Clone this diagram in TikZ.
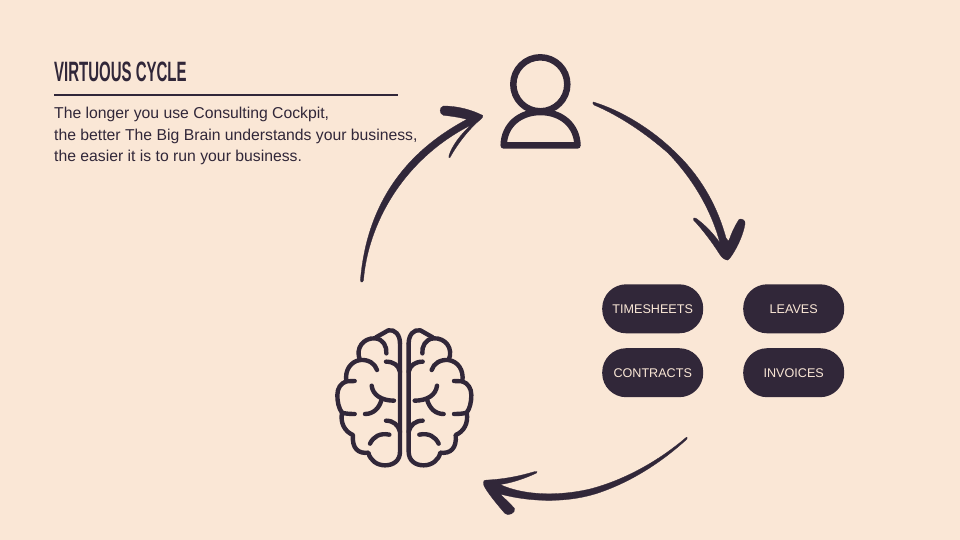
\documentclass[tikz,border=0pt]{standalone}
\usepackage{fontspec}
\setmainfont{Liberation Sans}
\newfontfamily\titlefont[FakeStretch=0.535]{Liberation Sans Bold}
\definecolor{bgc}{RGB}{250,231,214}
\definecolor{ink}{RGB}{49,39,57}
\newcommand{\brainhalf}{%
  \draw[brainline] (240,70) -- (240,395) .. controls (240,422) and (220,436) .. (195,436)
    .. controls (170,436) and (150,420) .. (145,398)
    .. controls (115,402) and (95,385) .. (99,345)
    .. controls (75,335) and (60,310) .. (66,278)
    .. controls (56,265) and (52,245) .. (52,225)
    .. controls (52,205) and (62,190) .. (79,184)
    .. controls (74,150) and (92,125) .. (120,120)
    .. controls (105,85) and (130,53) .. (165,55)
    .. controls (190,57) and (201,80) .. (199,100);
  \draw[brainline] (240,70) .. controls (240,45) and (225,27) .. (205,31) -- (168,52);
  \draw[brainline] (120,120) .. controls (145,118) and (165,130) .. (171,150);
  \draw[brainline] (79,184) -- (104,183);
  \draw[brainline] (66,278) .. controls (75,281) and (90,282) .. (104,282);
  \draw[brainline] (155,197) .. controls (158,225) and (185,242) .. (222,242);
  \draw[brainline] (135,282) .. controls (160,282) and (178,265) .. (185,238);
  \draw[brainline] (198,125) .. controls (220,125) and (235,135) .. (240,155);
  \draw[brainline] (198,302) .. controls (220,302) and (235,315) .. (240,335);
  \draw[brainline] (150,371) .. controls (160,350) and (180,338) .. (208,344);
}
\tikzset{
  brainline/.style={draw=ink,line width=4.4pt,line cap=round,line join=round},
  personline/.style={draw=ink,line width=6.5pt,line join=round,line cap=round},
  pill/.style={fill=ink,text=bgc,rounded corners=24pt,minimum width=101pt,minimum height=49pt,inner sep=0pt,font=\fontsize{12.6}{15}\selectfont},
  bodytext/.style={text=ink,anchor=base west,inner sep=0pt,font=\fontsize{15.75}{18}\selectfont},
  handarrow/.style={fill=ink,draw=ink,line width=.3pt,line join=round}
}
\begin{document}
\begin{tikzpicture}[x=1pt,y=-1pt]
\useasboundingbox (0,0) rectangle (960,540);
\fill[bgc] (0,0) rectangle (960,540);
\node[anchor=base west,inner sep=0pt,text=ink,font=\titlefont\fontsize{28}{30}\selectfont] (title) at (54,81.3) {VIRTUOUS CYCLE};
\draw[ink,line width=2pt] (54,94.7) -- (398,94.7);
\node[bodytext] (l1) at (54,118.3) {The longer you use Consulting Cockpit,};
\node[bodytext] (l2) at (54,140.3) {the better The Big Brain understands your business,};
\node[bodytext] (l3) at (54,162) {the easier it is to run your business.};
\draw[personline] (540.3,84.3) circle (27);
\draw[personline] (503.7,145.5) .. controls (504,125) and (520,112) .. (540.5,112)
   .. controls (561,112) and (577,125) .. (577.5,145.5) -- cycle;
\node[pill] (ts) at (652.7,308.8) {TIMESHEETS};
\node[pill] (lv) at (793.7,308.8) {LEAVES};
\node[pill] (ct) at (652.7,372.7) {CONTRACTS};
\node[pill] (inv) at (793.7,372.7) {INVOICES};
\begin{scope}[shift={(320,320)},xscale=1/3,yscale=1/3]\brainhalf\end{scope}
\begin{scope}[shift={(488.67,320)},xscale=-1/3,yscale=1/3]\brainhalf\end{scope}
\coordinate (a1tail) at (361,282);
\coordinate (a1tip) at (482.8,115.5);
\fill[handarrow] (a1tail) .. controls (360,281) and (360.5,279) .. (360.7,277)
  .. controls (366,222) and (390,160) .. (467,119.3)
  .. controls (458,117) and (450,116) .. (443.5,115.3)
  .. controls (439,114) and (439,107) .. (443.5,106)
  .. controls (458,106) and (472,110) .. (a1tip)
  .. controls (483,117) and (482,118) .. (481,119)
  .. controls (470,128) and (458,143) .. (450,157.5)
  .. controls (449,158.5) and (448.5,157.5) .. (449,155.5)
  .. controls (452,146) and (460,135) .. (471,125)
  .. controls (402,160) and (368,225) .. (363.5,280)
  .. controls (363.3,282) and (362,282.5) .. (a1tail) -- cycle;
\coordinate (a2tail) at (593.3,102);
\coordinate (a2tip) at (727.5,260);
\fill[handarrow] (a2tail) .. controls (620,110) and (650,128) .. (673,150)
  .. controls (700,175) and (717,205) .. (726,238)
  .. controls (729,243) and (729,240) .. (731,235)
  .. controls (733,230) and (736,224) .. (739,219.5)
  .. controls (741,218) and (746,220) .. (745,224)
  .. controls (743,236) and (736,250) .. (730,258)
  .. controls (728,260.5) and (726,260.5) .. (a2tip)
  .. controls (725,260) and (722,258) .. (719.5,254)
  .. controls (712,242) and (702,229) .. (693.5,220)
  .. controls (692.5,218) and (694,217) .. (697,219)
  .. controls (705,225) and (713,233) .. (720,243)
  .. controls (710,206) and (690,176) .. (668,153)
  .. controls (645,133) and (620,116) .. (594,105)
  .. controls (592.5,104) and (592.5,102) .. (a2tail) -- cycle;
\coordinate (a3tail) at (686.3,437.3);
\coordinate (a3tip) at (483.5,483.5);
\fill[handarrow] (a3tail) .. controls (660,460) and (625,480) .. (590,489)
  .. controls (560,496) and (525,496) .. (500,484.5)
  .. controls (512,483) and (526,478) .. (536.5,473)
  .. controls (538,471.5) and (537,471) .. (535,471.5)
  .. controls (520,476) and (505,479) .. (488,480)
  .. controls (484,480) and (482.5,481) .. (a3tip)
  .. controls (483,487) and (495,502) .. (505,513.5)
  .. controls (508,516.5) and (516,513) .. (514.5,508.5)
  .. controls (510,503) and (504,498) .. (500,494)
  .. controls (530,502) and (565,503) .. (595,494)
  .. controls (630,483) and (662,462) .. (687,439)
  .. controls (687.5,437.5) and (687,437) .. (a3tail) -- cycle;
\end{tikzpicture}
\end{document}
